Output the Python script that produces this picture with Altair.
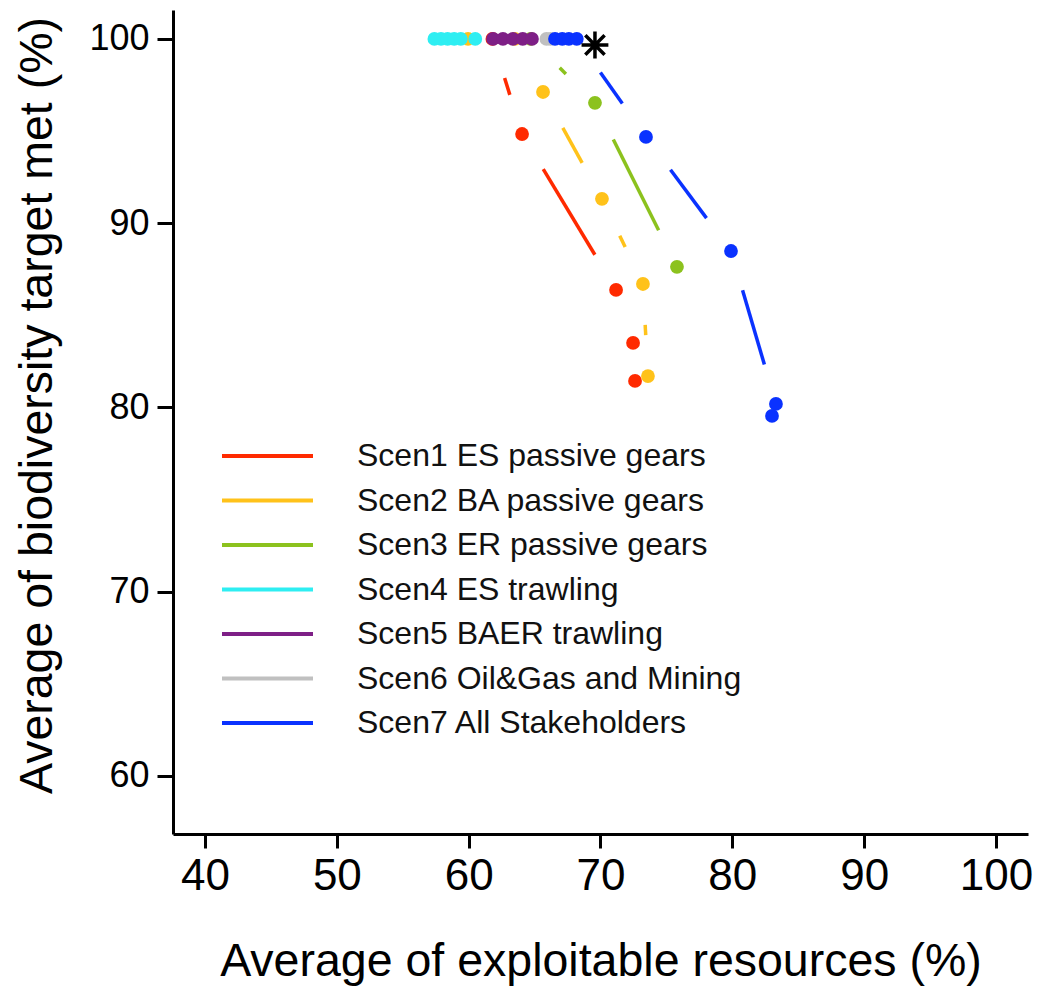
import altair as alt
import pandas as pd
import numpy as np

# ---------------- data ----------------
names = [
    "Scen1 ES passive gears",
    "Scen2 BA passive gears",
    "Scen3 ER passive gears",
    "Scen4 ES trawling",
    "Scen5 BAER trawling",
    "Scen6 Oil&Gas and Mining",
    "Scen7 All Stakeholders",
]
colors = ["#ff2a00", "#ffc21a", "#8cc21e", "#2eeef2", "#7e1f86", "#c0c0c0", "#0a32ff"]

scen1_x = [61.8, 64.05, 71.18, 72.47, 72.62]
scen1_y = [100, 94.84, 86.38, 83.50, 81.44]
scen2_x = [59.95, 63.5, 65.64, 70.11, 73.22, 73.6]
scen2_y = [100, 100, 97.12, 91.32, 86.70, 81.7]
scen3_x = [64.7, 69.58, 75.80]
scen3_y = [100, 96.53, 87.63]
scen4_x = [57.4, 57.9, 58.4, 58.9, 59.4, 60.5]
scen4_y = [100, 100, 100, 100, 100, 100]
scen5_x = [61.85, 62.6, 63.36, 64.1, 64.8]
scen5_y = [100, 100, 100, 100, 100]
scen6_x = [65.9, 66.2]
scen6_y = [100, 100]
scen7_x = [66.55, 67.1, 67.6, 68.2, 73.45, 79.90, 83.31, 83.01]
scen7_y = [100, 100, 100, 100, 94.68, 88.49, 80.19, 79.54]

star_x = [69.58]
star_y = [99.67]

x_ticks = [40, 50, 60, 70, 80, 90, 100]
y_ticks = [60, 70, 80, 90, 100]

# ---------------- layout ----------------
W, H = 855, 824
X_DOM = [37.57, 102.43]
Y_DOM = [56.85, 101.57]
GAP = 41  # px gap left around each point along its own line

series_x = [scen1_x, scen2_x, scen3_x, scen4_x, scen5_x, scen6_x, scen7_x]
series_y = [scen1_y, scen2_y, scen3_y, scen4_y, scen5_y, scen6_y, scen7_y]

rows = []
for i, (n, xs, ys) in enumerate(zip(names, series_x, series_y)):
    for xv, yv in zip(xs, ys):
        rows.append({"series": n, "order": i, "x": xv, "y": yv})
points = pd.DataFrame(rows)

# line segments between consecutive points, trimmed by a pixel gap at each end
def to_px(xv, yv):
    return ((xv - X_DOM[0]) / (X_DOM[1] - X_DOM[0]) * W,
            (yv - Y_DOM[0]) / (Y_DOM[1] - Y_DOM[0]) * H)

def to_data(px, py):
    return (X_DOM[0] + px / W * (X_DOM[1] - X_DOM[0]),
            Y_DOM[0] + py / H * (Y_DOM[1] - Y_DOM[0]))

segs = []
for i, (n, xs, ys) in enumerate(zip(names, series_x, series_y)):
    for k in range(len(xs) - 1):
        p0 = np.array(to_px(xs[k], ys[k]))
        p1 = np.array(to_px(xs[k + 1], ys[k + 1]))
        d = p1 - p0
        L = float(np.hypot(*d))
        if L <= 2 * GAP:
            continue
        u = d / L
        a = to_data(*(p0 + GAP * u))
        b = to_data(*(p1 - GAP * u))
        segs.append({"series": n, "x": a[0], "y": a[1], "x2": b[0], "y2": b[1]})
segments = pd.DataFrame(segs)

color_scale = alt.Scale(domain=names, range=colors)
xs_ = alt.Scale(domain=X_DOM, nice=False, zero=False)
ys_ = alt.Scale(domain=Y_DOM, nice=False, zero=False)

x_axis = alt.Axis(
    values=x_ticks, title="Average of exploitable resources (%)",
    labelFontSize=44, titleFontSize=46.5, tickSize=14, labelPadding=6,
    titleBaseline="alphabetic", titleY=141, titleFontWeight="normal",
)
y_axis = alt.Axis(
    values=y_ticks, title="Average of biodiversity target met (%)",
    labelFontSize=36, titleFontSize=46.5, tickSize=16, labelPadding=8,
    titleX=-136, titleY=395, titleBaseline="middle", titleFontWeight="normal",
)

lines = alt.Chart(segments).mark_rule(strokeWidth=3.5, strokeCap="butt").encode(
    x=alt.X("x:Q", scale=xs_, axis=x_axis),
    y=alt.Y("y:Q", scale=ys_, axis=y_axis),
    x2="x2:Q",
    y2="y2:Q",
    color=alt.Color("series:N", scale=color_scale, legend=None),
)

dots = alt.Chart(points).mark_circle(size=190, opacity=1).encode(
    x=alt.X("x:Q", scale=xs_, axis=x_axis),
    y=alt.Y("y:Q", scale=ys_, axis=y_axis),
    color=alt.Color("series:N", scale=color_scale, legend=None),
    order=alt.Order("order:Q"),
)

star = alt.Chart(pd.DataFrame({"x": star_x, "y": star_y})).mark_point(
    shape="M0,-1L0,1M-1,0L1,0M-0.72,-0.72L0.72,0.72M-0.72,0.72L0.72,-0.72",
    size=720, stroke="black", strokeWidth=3.5, filled=False, opacity=1,
).encode(x=alt.X("x:Q", scale=xs_, axis=x_axis), y=alt.Y("y:Q", scale=ys_, axis=y_axis))

main = alt.layer(lines, dots, star)

leg_df = pd.DataFrame({"series": names})
leg_y = alt.Y("series:N", sort=names, axis=None,
              scale=alt.Scale(type="point", range=[446, 713], padding=0))
leg_lines = alt.Chart(leg_df).mark_rule(strokeWidth=4).encode(
    x=alt.value(49), x2=alt.value(140), y=leg_y,
    color=alt.Color("series:N", scale=color_scale, legend=None),
)
leg_text = alt.Chart(leg_df).mark_text(
    align="left", baseline="middle", fontSize=32, font="Liberation Sans", color="#111111",
).encode(x=alt.value(184), y=leg_y, text="series:N")

legend = alt.layer(leg_lines, leg_text)

chart = alt.layer(main, legend).resolve_scale(y="independent").properties(
    width=W, height=H,
    autosize=alt.AutoSizeParams(type="none"),
    padding={"left": 173, "top": 10, "right": 12, "bottom": 153},
).configure_view(stroke=None).configure_axis(
    domainColor="black", domainWidth=3, tickColor="black", tickWidth=3,
    labelColor="black", titleColor="black", grid=False,
    labelFont="Liberation Sans", titleFont="Liberation Sans",
)

chart.save("out.html", embed_options={"renderer": "svg", "actions": False})
